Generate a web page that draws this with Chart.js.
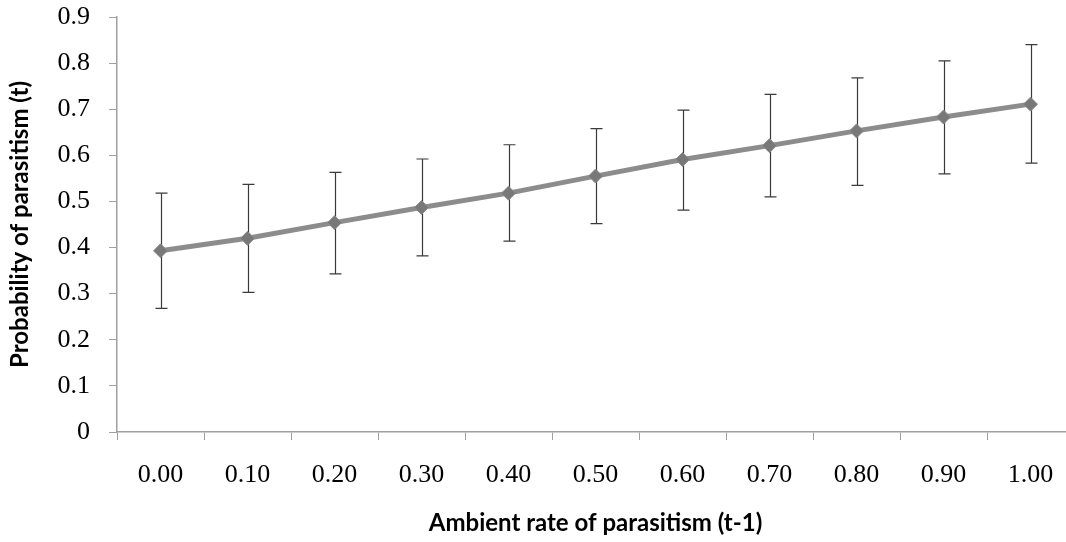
<!DOCTYPE html>
<html>
<head>
<meta charset="utf-8">
<script src="https://cdn.jsdelivr.net/npm/chart.js@4.4.1/dist/chart.umd.min.js"></script>
<style>
    html, body { margin: 0; padding: 0; background: #fff; overflow: hidden; }
    #wrap { position: absolute; left: 0; top: 0; width: 1066px; height: 542px; overflow: hidden; }
</style>
</head>
<body>
<div id="wrap"><canvas id="chart" width="1082" height="542" style="width:1082px;height:542px"></canvas></div>
<script>
// Chart values
const categories = ['0.00', '0.10', '0.20', '0.30', '0.40', '0.50', '0.60', '0.70', '0.80', '0.90', '1.00'];
const probability = [0.393, 0.420, 0.454, 0.487, 0.518, 0.555, 0.591, 0.621, 0.653, 0.683, 0.711];
const upperBound = [0.518, 0.537, 0.563, 0.592, 0.623, 0.658, 0.698, 0.732, 0.768, 0.805, 0.840];
const lowerBound = [0.268, 0.303, 0.343, 0.382, 0.414, 0.452, 0.481, 0.510, 0.535, 0.560, 0.583];

const axisGray = '#a0a0a0';

// Draw error bars under the line
const errorBars = {
    id: 'errorBars',
    beforeDatasetsDraw(chart) {
        const ctx = chart.ctx;
        const yScale = chart.scales.y;
        const meta = chart.getDatasetMeta(0);
        ctx.save();
        ctx.strokeStyle = '#3a3a3a';
        ctx.lineWidth = 1.2;
        meta.data.forEach((pt, i) => {
            const x = Math.round(pt.x) + 0.5;
            const yTop = yScale.getPixelForValue(upperBound[i]);
            const yBot = yScale.getPixelForValue(lowerBound[i]);
            ctx.beginPath();
            ctx.moveTo(x, yTop);
            ctx.lineTo(x, yBot);
            ctx.moveTo(x - 6, yTop);
            ctx.lineTo(x + 6, yTop);
            ctx.moveTo(x - 6, yBot);
            ctx.lineTo(x + 6, yBot);
            ctx.stroke();
        });
        ctx.restore();
    }
};

new Chart(document.getElementById('chart').getContext('2d'), {
    type: 'line',
    data: {
        labels: categories,
        datasets: [{
            data: probability,
            borderColor: '#8c8c8c',
            borderWidth: 5,
            pointStyle: 'rectRot',
            pointRadius: 7,
            pointBackgroundColor: '#787878',
            pointBorderColor: '#8c8c8c',
            pointBorderWidth: 1,
            tension: 0,
            fill: false
        }]
    },
    options: {
        responsive: false,
        animation: false,
        layout: { padding: { top: 17, right: 4, left: 0, bottom: 0 } },
        plugins: {
            legend: { display: false },
            tooltip: { enabled: false }
        },
        scales: {
            x: {
                type: 'category',
                offset: true,
                grid: {
                    offset: true,
                    drawOnChartArea: false,
                    drawTicks: true,
                    tickLength: 8,
                    color: axisGray
                },
                border: { color: axisGray, width: 1.5 },
                ticks: {
                    color: '#000',
                    padding: 20,
                    maxRotation: 0,
                    font: { family: 'Liberation Serif', size: 26 }
                },
                title: {
                    display: true,
                    text: 'Ambient rate of parasitism (t-1)',
                    color: '#000',
                    padding: { top: 0, bottom: 4 },
                    font: { family: 'Lato', weight: 'bold', size: 24 }
                },
                afterFit(scale) {
                    scale.height = 110;
                    scale.paddingLeft = 0;
                    scale.paddingRight = 0;
                }
            },
            y: {
                min: 0,
                max: 0.9,
                grid: {
                    drawOnChartArea: false,
                    drawTicks: true,
                    tickLength: 8,
                    color: axisGray
                },
                border: { color: axisGray, width: 1.5 },
                ticks: {
                    stepSize: 0.1,
                    color: '#000',
                    padding: 19,
                    font: { family: 'Liberation Serif', size: 26 },
                    callback: v => Math.round(v * 10) / 10
                },
                title: {
                    display: true,
                    text: 'Probability of parasitism (t)',
                    color: '#000',
                    padding: { top: 6, bottom: 0 },
                    font: { family: 'Lato', weight: 'bold', size: 24 }
                },
                afterFit(scale) {
                    scale.width = 117;
                    scale.paddingTop = 0;
                    scale.paddingBottom = 0;
                }
            }
        }
    },
    plugins: [errorBars]
});
</script>
</body>
</html>
